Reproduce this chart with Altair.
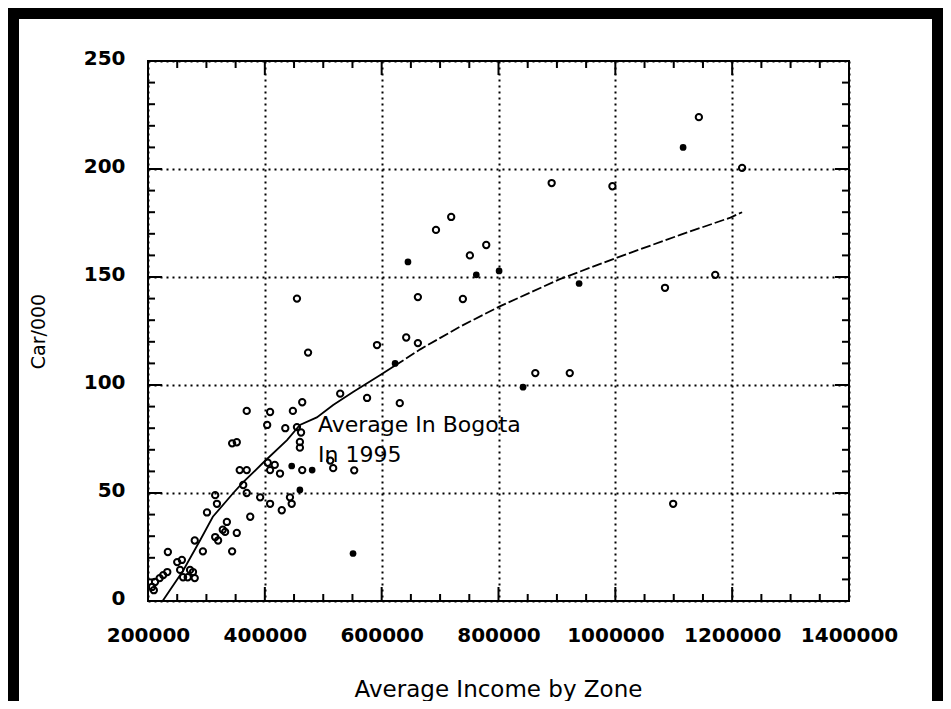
import altair as alt
import pandas as pd

# ---- data ----
open_income = [207000, 212000, 220000, 226000, 233000, 210000, 234000, 250000, 258000, 255000,
               260000, 268000, 277000, 280000, 272000, 280000, 294000, 301000, 315000, 318000,
               315000, 320000, 332000, 328000, 352000, 344000, 335000, 375000, 363000, 369000,
               357000, 369000, 344000, 352000, 369000, 409000, 404000, 392000, 409000, 443000,
               446000, 429000, 405000, 417000, 409000, 426000, 464000, 512000, 517000, 553000,
               435000, 455000, 462000, 460000, 460000, 448000, 464000, 529000, 575000, 631000,
               474000, 455000, 592000, 642000, 662000, 662000, 693000, 719000, 751000, 779000,
               739000, 863000, 922000, 891000, 995000, 1085000, 1171000, 1143000, 1217000, 1099000]
open_cars = [6.5, 8.8, 10.6, 12, 13.4, 5, 22.7, 18, 19, 14.4,
             11, 11, 13.4, 10.6, 14.4, 28, 23, 41, 49, 45,
             29.6, 28, 32, 33, 31.5, 23, 36.6, 39, 53.7, 50,
             60.6, 60.6, 73, 73.5, 88, 87.5, 81.5, 48, 45, 48,
             45, 42, 64, 63, 60.6, 59, 60.6, 65, 61.5, 60.5,
             80, 80.5, 78, 73.6, 71, 88, 92, 96, 94, 91.6,
             115, 140, 118.5, 122, 119.4, 140.7, 171.8, 177.8, 160, 164.8,
             139.8, 105.5, 105.5, 193.5, 192, 145, 151, 224, 200.5, 45]

filled_income = [623000, 801000, 1116000, 645000, 551000, 938000, 842000, 762000, 446000, 481000, 460000]
filled_cars = [110, 152.8, 210, 157, 22, 147, 99, 151, 62.5, 60.6, 51.4]

fit_income_solid = [225000, 260000, 289000, 311000, 346000, 363000, 397000, 438000, 460000,
                    489000, 517000, 551000, 597000, 623000]
fit_cars_solid = [0, 14, 28, 39, 50, 55, 64, 74.5, 81.5, 85, 90.7, 96.8, 104.5, 109]
fit_income_dashed = [623000, 666000, 734000, 803000, 905000, 1003000, 1111000, 1197000, 1217000]
fit_cars_dashed = [109, 116.5, 127, 136.5, 149, 159, 169.5, 177.5, 180]

note_income = [491000, 491000]
note_cars = [81.5, 67.6]
note_text = ["Average In Bogota", "In 1995"]

x_major = [200000, 400000, 600000, 800000, 1000000, 1200000, 1400000]
y_major = [0, 50, 100, 150, 200, 250]
x_minor = [250000, 300000, 350000, 450000, 500000, 550000, 650000, 700000, 750000,
           850000, 900000, 950000, 1050000, 1100000, 1150000, 1250000, 1300000, 1350000]
y_minor = [10, 20, 30, 40, 60, 70, 80, 90, 110, 120, 130, 140, 160, 170, 180, 190,
           210, 220, 230, 240]

W, H = 701, 540
FONT = "DejaVu Sans"

xs = alt.Scale(domain=[200000, 1400000], nice=False, zero=False)
ys = alt.Scale(domain=[0, 250], nice=False, zero=False)

x_axis = alt.Axis(values=x_major, format="d", grid=True, gridDash=[2, 4], gridColor="black",
                  gridWidth=2, gridOpacity=1, ticks=False, tickSize=0, domain=False,
                  labelFont=FONT, labelFontSize=20, labelFontWeight="bold", labelColor="black",
                  labelPadding=24, labelFlush=False, labelOverlap=False,
                  title="Average Income by Zone", titleFont=FONT, titleFontSize=23,
                  titleFontWeight="normal", titleColor="black", titleX=350, titleY=88,
                  titleBaseline="middle", titleAlign="center")
y_axis = alt.Axis(values=y_major, format="d", grid=True, gridDash=[2, 4], gridColor="black",
                  gridWidth=2, gridOpacity=1, ticks=False, tickSize=0, domain=False,
                  labelFont=FONT, labelFontSize=20, labelFontWeight="bold", labelColor="black",
                  labelPadding=23, labelOffset=-3, labelFlush=False, labelOverlap=False,
                  title="Car/000", titleFont=FONT, titleFontSize=19, titleFontWeight="normal",
                  titleColor="black", titleAngle=270, titleX=-110, titleY=270,
                  titleBaseline="middle", titleAlign="center")


def X(field):
    return alt.X(field, scale=xs, axis=x_axis)


def Y(field):
    return alt.Y(field, scale=ys, axis=y_axis)


open_df = pd.DataFrame({"income": open_income, "cars": open_cars})
filled_df = pd.DataFrame({"income": filled_income, "cars": filled_cars})
solid_df = pd.DataFrame({"income": fit_income_solid, "cars": fit_cars_solid})
dashed_df = pd.DataFrame({"income": fit_income_dashed, "cars": fit_cars_dashed})
note_df = pd.DataFrame({"income": note_income, "cars": note_cars, "text": note_text})
xmaj_df = pd.DataFrame({"income": x_major[1:-1]})
xmin_df = pd.DataFrame({"income": x_minor})
ymaj_df = pd.DataFrame({"cars": y_major[1:-1]})
ymin_df = pd.DataFrame({"cars": y_minor})

open_pts = alt.Chart(open_df).mark_point(shape="circle", filled=False, color="black",
                                         strokeWidth=2, size=40, opacity=1).encode(
    x=X("income:Q"), y=Y("cars:Q"))
filled_pts = alt.Chart(filled_df).mark_point(shape="circle", filled=True, color="black",
                                             size=45, opacity=1).encode(
    x=X("income:Q"), y=Y("cars:Q"))
solid_line = alt.Chart(solid_df).mark_line(color="black", strokeWidth=1.8).encode(
    x=X("income:Q"), y=Y("cars:Q"))
dashed_line = alt.Chart(dashed_df).mark_line(color="black", strokeWidth=1.8,
                                             strokeDash=[10, 3]).encode(
    x=X("income:Q"), y=Y("cars:Q"))
notes = alt.Chart(note_df).mark_text(align="left", baseline="middle", font=FONT,
                                     fontSize=22, color="black").encode(
    x=X("income:Q"), y=Y("cars:Q"), text="text:N")


def xticks(df, length):
    bottom = alt.Chart(df).mark_rule(color="black", strokeWidth=2).encode(
        x=X("income:Q"), y=alt.value(H), y2=alt.value(H - length))
    top = alt.Chart(df).mark_rule(color="black", strokeWidth=2).encode(
        x=X("income:Q"), y=alt.value(0), y2=alt.value(length))
    return [bottom, top]


def yticks(df, length):
    left = alt.Chart(df).mark_rule(color="black", strokeWidth=2).encode(
        y=Y("cars:Q"), x=alt.value(0), x2=alt.value(length))
    right = alt.Chart(df).mark_rule(color="black", strokeWidth=2).encode(
        y=Y("cars:Q"), x=alt.value(W), x2=alt.value(W - length))
    return [left, right]


frame = alt.Chart(pd.DataFrame({"a": [0]})).mark_rect(
    fillOpacity=0, stroke="black", strokeWidth=11).encode(
    x=alt.value(-134.5), x2=alt.value(789.5), y=alt.value(-47.5), y2=alt.value(700))

layers = [open_pts, filled_pts, solid_line, dashed_line, notes]
layers += xticks(xmaj_df, 14) + xticks(xmin_df, 7) + yticks(ymaj_df, 14) + yticks(ymin_df, 7)
layers.append(frame)

chart = alt.layer(*layers).properties(
    width=W, height=H,
    autosize=alt.AutoSizeParams(type="none"),
    padding={"left": 140, "top": 53, "right": 94, "bottom": 100},
    background="white",
).configure_view(stroke="black", strokeWidth=2)

chart.save("out.html", embed_options={"renderer": "svg", "actions": False})
